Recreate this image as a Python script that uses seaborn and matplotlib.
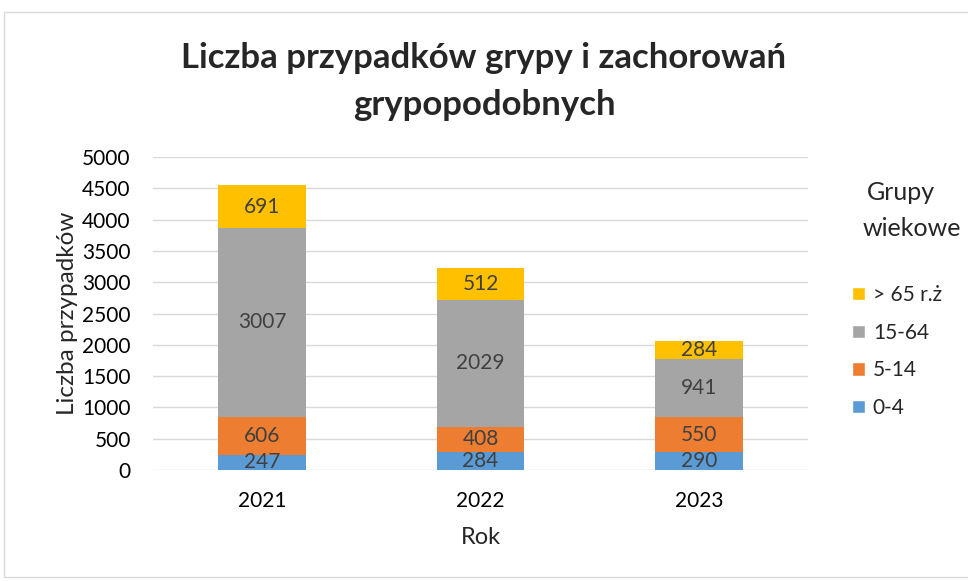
import numpy as np
import pandas as pd
import matplotlib.pyplot as plt
import seaborn as sns
from matplotlib.patches import Patch, Rectangle

# Data
years = ['2021', '2022', '2023']
groups = ['0-4', '5-14', '15-64', '> 65 r.ż']
age_0_4 = [247, 284, 290]
age_5_14 = [606, 408, 550]
age_15_64 = [3007, 2029, 941]
age_65 = [691, 512, 284]
colors = ['#5B9BD5', '#ED7D31', '#A5A5A5', '#FFC000']

series = [age_0_4, age_5_14, age_15_64, age_65]
cum = np.cumsum(np.array(series), axis=0)

sns.set_theme(style='white')
plt.rcParams['font.family'] = ['Lato', 'DejaVu Sans']

fig = plt.figure(figsize=(9.68, 5.81), dpi=100)
ax = fig.add_axes([153 / 968, 1 - 470 / 581, 655 / 968, 313 / 581])

# Stack by drawing cumulative totals, tallest first
for i in reversed(range(len(groups))):
    df = pd.DataFrame({'Rok': years, 'val': cum[i]})
    sns.barplot(data=df, x='Rok', y='val', color=colors[i], width=0.4,
                saturation=1, linewidth=0, ax=ax, zorder=2)

# Segment labels
for i, vals in enumerate(series):
    for j, v in enumerate(vals):
        ax.text(j, cum[i][j] - v / 2, str(v), ha='center', va='center',
                fontsize=15, color='#404040', zorder=3)

ax.set_ylim(0, 5000)
ax.set_yticks(range(0, 5001, 500))
ax.yaxis.grid(True, color='#D9D9D9', linewidth=1)
ax.set_axisbelow(True)
for s in ax.spines.values():
    s.set_visible(False)
ax.tick_params(axis='both', length=0, labelsize=15, colors='black')
ax.tick_params(axis='y', pad=16)
ax.tick_params(axis='x', pad=15)
ax.set_xlabel('Rok', fontsize=17, labelpad=12)
ax.set_ylabel('Liczba przypadków', fontsize=17.5, labelpad=3)

fig.text(0.5, 1 - 58 / 581, 'Liczba przypadków grypy i zachorowań',
         ha='center', va='center', fontsize=25, fontweight='bold')
fig.text(0.5, 1 - 105 / 581, 'grypopodobnych',
         ha='center', va='center', fontsize=25, fontweight='bold')

handles = [Patch(facecolor=colors[i], label=groups[i]) for i in reversed(range(len(groups)))]
leg = fig.legend(handles=handles, loc='upper left', bbox_to_anchor=(852 / 968, 1 - 285 / 581),
                 frameon=False, fontsize=15, handlelength=0.6, handleheight=0.6,
                 handletextpad=0.4, labelspacing=0.85, borderpad=0, borderaxespad=0)
fig.text(901 / 968, 1 - 193 / 581, 'Grupy', ha='center', va='center', fontsize=18)
fig.text(912 / 968, 1 - 228 / 581, 'wiekowe', ha='center', va='center', fontsize=18)

# Chart border
fig.patches.append(Rectangle((4 / 968, 4 / 581), 1.2, 1 - 16 / 581,
                             transform=fig.transFigure, fill=False,
                             edgecolor='#D9D9D9', linewidth=1))

fig.savefig('out.png', dpi=100)
